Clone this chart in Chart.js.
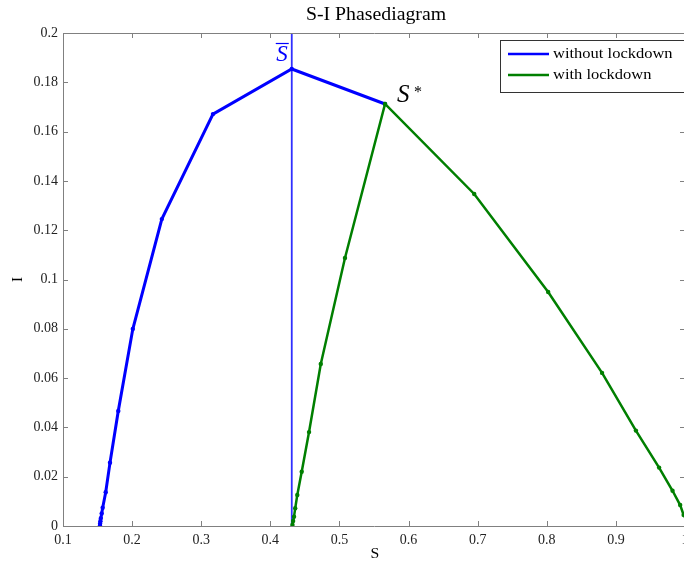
<!DOCTYPE html>
<html>
<head>
<meta charset="utf-8">
<script src="https://cdn.jsdelivr.net/npm/chart.js@4.4.1/dist/chart.umd.min.js"></script>
<style>
html,body{margin:0;padding:0;background:#fff;}
#wrap{width:684px;height:565px;overflow:hidden;position:relative;}
#wrap canvas{display:block;}
</style>
</head>
<body>
<div id="wrap"><canvas id="c" width="700" height="565" style="width:700px;height:565px"></canvas></div>
<script>
// ---- data ----
const titleText = "S-I Phasediagram";
const xLabel = "S";
const yLabel = "I";
const legendLabels = ["without lockdown", "with lockdown"];

const withoutS = [0.566, 0.431, 0.317, 0.243, 0.201, 0.180, 0.168, 0.1618, 0.1574, 0.156, 0.1548, 0.1542, 0.1537, 0.1535];
const withoutI = [0.1712, 0.1854, 0.1671, 0.1245, 0.0799, 0.0467, 0.0257, 0.0137, 0.0074, 0.0051, 0.0032, 0.0019, 0.0010, 0.0002];

const withS = [1.003, 0.998, 0.993, 0.982, 0.9625, 0.929, 0.880, 0.802, 0.695, 0.566, 0.508, 0.473, 0.456, 0.4454, 0.439, 0.436, 0.4343, 0.433, 0.432];
const withI = [0.002, 0.0045, 0.0085, 0.0143, 0.0237, 0.0387, 0.0621, 0.0949, 0.1347, 0.1712, 0.1087, 0.0657, 0.0381, 0.0220, 0.0126, 0.0072, 0.0038, 0.002, 0.0005];

const sBar = 0.431;
const sBarLineI = [0, 0.2];
const sStar = [0.566, 0.1712];

const xTicks = [0.1, 0.2, 0.3, 0.4, 0.5, 0.6, 0.7, 0.8, 0.9, 1.0];
const yTicks = [0, 0.02, 0.04, 0.06, 0.08, 0.1, 0.12, 0.14, 0.16, 0.18, 0.2];

const zip = (xs, ys) => xs.map((x, i) => ({x: x, y: ys[i]}));

const SERIF = '"Liberation Serif", "DejaVu Serif", serif';
const BLUE = '#0000ff';
const GREEN = '#007f00';

function stretchText(ctx, txt, x, y, sx, align) {
  ctx.save();
  ctx.translate(x, y);
  ctx.scale(sx, 1);
  ctx.textAlign = align;
  ctx.fillText(txt, 0, 0);
  ctx.restore();
}

const decor = {
  id: 'decor',
  afterDraw(chart) {
    const ctx = chart.ctx;
    const a = chart.chartArea;
    const xs = chart.scales.x, ys = chart.scales.y;
    ctx.save();
    // box
    ctx.strokeStyle = '#808080';
    ctx.lineWidth = 1;
    ctx.beginPath();
    ctx.rect(Math.round(a.left) + 0.5, Math.round(a.top) + 0.5, Math.round(a.right - a.left), Math.round(a.bottom - a.top));
    ctx.stroke();
    // inward ticks
    const tl = 5;
    ctx.beginPath();
    xs.ticks.forEach(t => {
      const px = Math.round(xs.getPixelForValue(t.value)) + 0.5;
      ctx.moveTo(px, a.bottom); ctx.lineTo(px, a.bottom - tl);
      ctx.moveTo(px, a.top); ctx.lineTo(px, a.top + tl);
    });
    ys.ticks.forEach(t => {
      const py = Math.round(ys.getPixelForValue(t.value)) + 0.5;
      ctx.moveTo(a.left, py); ctx.lineTo(a.left + tl, py);
      ctx.moveTo(a.right, py); ctx.lineTo(a.right - tl, py);
    });
    ctx.stroke();

    // title
    ctx.fillStyle = '#000';
    ctx.font = '18px ' + SERIF;
    ctx.textBaseline = 'middle';
    stretchText(ctx, titleText, 376, 15, 1.1, 'center');
    // axis labels
    ctx.font = '15px ' + SERIF;
    stretchText(ctx, xLabel, 375, 554, 1.05, 'center');
    ctx.save();
    ctx.translate(18, (a.top + a.bottom) / 2);
    ctx.rotate(-Math.PI / 2);
    ctx.textAlign = 'center';
    ctx.fillText(yLabel, 0, 0);
    ctx.restore();

    // S-bar annotation
    const bx = xs.getPixelForValue(sBar);
    ctx.fillStyle = BLUE;
    ctx.font = 'italic 23px ' + SERIF;
    ctx.textAlign = 'right';
    ctx.textBaseline = 'alphabetic';
    ctx.fillText('S', bx - 4, 61);
    ctx.strokeStyle = BLUE;
    ctx.lineWidth = 1.2;
    ctx.beginPath();
    ctx.moveTo(bx - 16, 43.5); ctx.lineTo(bx - 3, 43.5);
    ctx.stroke();

    // S* annotation
    const sx = xs.getPixelForValue(sStar[0]);
    const sy = ys.getPixelForValue(sStar[1]);
    ctx.fillStyle = '#000';
    ctx.font = 'italic 25px ' + SERIF;
    ctx.textAlign = 'left';
    ctx.fillText('S', sx + 12, sy - 2);
    ctx.font = '16px ' + SERIF;
    ctx.fillText('*', sx + 29, sy - 7);

    // legend
    const lx = 500, ly = 40, lw = 200, lh = 52;
    ctx.fillStyle = '#fff';
    ctx.fillRect(lx, ly, lw, lh);
    ctx.strokeStyle = '#333';
    ctx.lineWidth = 1;
    ctx.strokeRect(lx + 0.5, ly + 0.5, lw, lh);
    const cols = [BLUE, GREEN];
    legendLabels.forEach((lab, i) => {
      const yy = ly + 14 + i * 21;
      ctx.strokeStyle = cols[i];
      ctx.lineWidth = 2.5;
      ctx.beginPath();
      ctx.moveTo(lx + 8, yy); ctx.lineTo(lx + 49, yy);
      ctx.stroke();
      ctx.fillStyle = '#000';
      ctx.font = '15px ' + SERIF;
      ctx.textBaseline = 'middle';
      stretchText(ctx, lab, lx + 53, yy, 1.1, 'left');
    });
    ctx.restore();
  }
};

new Chart(document.getElementById('c'), {
  type: 'scatter',
  data: {
    datasets: [
      {
        label: 'S-bar',
        data: zip([sBar, sBar], sBarLineI),
        showLine: true,
        borderColor: '#3030ff',
        borderWidth: 1.8,
        pointRadius: 0,
        order: 3
      },
      {
        label: legendLabels[0],
        data: zip(withoutS, withoutI),
        showLine: true,
        borderColor: BLUE,
        backgroundColor: BLUE,
        borderWidth: 3,
        pointRadius: 2.2,
        pointBorderWidth: 0,
        order: 2
      },
      {
        label: legendLabels[1],
        data: zip(withS, withI),
        showLine: true,
        borderColor: GREEN,
        backgroundColor: GREEN,
        borderWidth: 2.5,
        pointRadius: 2.2,
        pointBorderWidth: 0,
        order: 1
      }
    ]
  },
  options: {
    responsive: false,
    animation: false,
    layout: {padding: {left: 0, right: 15, top: 33, bottom: 0}},
    plugins: {legend: {display: false}, tooltip: {enabled: false}, title: {display: false}},
    scales: {
      x: {
        type: 'linear',
        min: 0.1, max: 1.0,
        afterBuildTicks: s => { s.ticks = xTicks.map(v => ({value: v})); },
        afterFit: s => { s.height = 39; s.paddingLeft = 0; s.paddingRight = 0; },
        grid: {display: false, drawTicks: false},
        border: {display: false},
        ticks: {
          color: '#222',
          font: {family: SERIF, size: 14},
          padding: 6,
          maxRotation: 0,
          autoSkip: false,
          callback: v => String(Number(v.toFixed(2)))
        }
      },
      y: {
        type: 'linear',
        min: 0, max: 0.2,
        afterBuildTicks: s => { s.ticks = yTicks.map(v => ({value: v})); },
        afterFit: s => { s.width = 63; s.paddingTop = 0; s.paddingBottom = 0; },
        grid: {display: false, drawTicks: false},
        border: {display: false},
        ticks: {
          color: '#222',
          font: {family: SERIF, size: 14},
          padding: 5,
          autoSkip: false,
          callback: v => String(Number(v.toFixed(2)))
        }
      }
    }
  },
  plugins: [decor]
});
</script>
</body>
</html>
